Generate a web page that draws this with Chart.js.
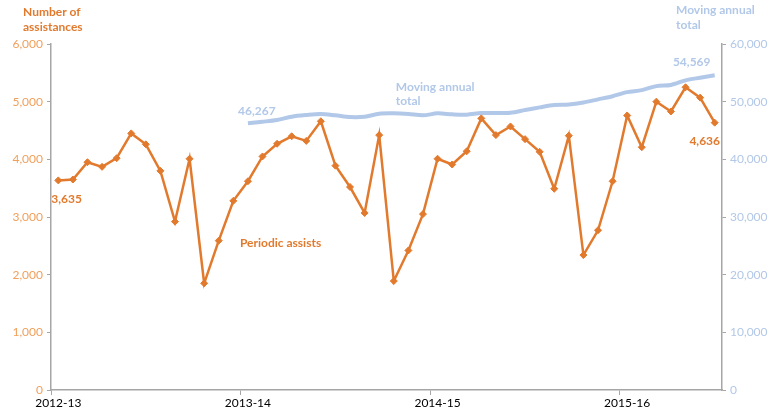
<!DOCTYPE html>
<html lang="en">
<head>
    <meta charset="UTF-8">
    <title>Periodic assists</title>
    <script src="https://cdn.jsdelivr.net/npm/chart.js"></script>
    <style>
        html, body { margin: 0; padding: 0; background: #fff; }
        .container { width: 769px; height: 414px; position: relative; }
    </style>
</head>
<body>
    <div class="container">
        <canvas id="assistChart"></canvas>
    </div>
    <script>
        // four-weekly periods, 13 per financial year
        const years = ['2012-13', '2013-14', '2014-15', '2015-16'];
        const periodsPerYear = [13, 13, 13, 7];

        const periodicAssists = [
            3635, 3650, 3950, 3870, 4020, 4450, 4260, 3800, 2920, 4010, 1850, 2590, 3280,
            3620, 4050, 4270, 4400, 4320, 4660, 3890, 3520, 3070, 4420, 1890, 2420, 3050,
            4010, 3910, 4140, 4710, 4420, 4570, 4350, 4130, 3490, 4410, 2340, 2770, 3620,
            4760, 4210, 5000, 4830, 5250, 5070, 4636
        ];

        // starts at the first period of 2013-14
        const movingAnnualTotal = [
            46267, 46520, 46820, 47390, 47680, 47860, 47630, 47340, 47390, 47910, 47970, 47860, 47630,
            47970, 47800, 47740, 48030, 48030, 48080, 48550, 49010, 49420, 49500, 49850, 50400, 50950,
            51650, 52000, 52700, 52900, 53700, 54150, 54569
        ];

        const orange = '#e27a2e';
        const orangeLight = '#f0a05c';
        const blue = '#b2c8e8';
        const axisGrey = '#a6a6a6';

        const labels = [];
        years.forEach((y, i) => {
            for (let p = 1; p <= periodsPerYear[i]; p++) labels.push(y + ' P' + p);
        });
        const matData = new Array(labels.length - movingAnnualTotal.length).fill(null).concat(movingAnnualTotal);

        const fmt = v => Number(v).toLocaleString('en-US');
        const fontFamily = 'Lato, "Open Sans", sans-serif';

        const textPlugin = {
            id: 'textPlugin',
            afterDatasetsDraw(chart) {
                const ctx = chart.ctx;
                const x = chart.scales.x, y = chart.scales.y, y1 = chart.scales.y1;
                const last = periodicAssists.length - 1;
                const matStart = labels.length - movingAnnualTotal.length;
                ctx.save();
                ctx.textBaseline = 'middle';
                ctx.font = 'bold 12px ' + fontFamily;

                ctx.fillStyle = orange;
                ctx.textAlign = 'left';
                ctx.fillText('Number of', 23, 12);
                ctx.fillText('assistances', 23, 27);
                ctx.fillText(fmt(periodicAssists[0]), x.getPixelForValue(0) - 7, y.getPixelForValue(periodicAssists[0]) + 19);
                ctx.fillText('Periodic assists', x.getPixelForValue(13) - 8, y.getPixelForValue(2550));
                ctx.textAlign = 'center';
                ctx.fillText(fmt(periodicAssists[last]), x.getPixelForValue(last) - 10, y.getPixelForValue(periodicAssists[last]) + 18);

                ctx.fillStyle = blue;
                ctx.textAlign = 'left';
                ctx.fillText('Moving annual', 676, 10);
                ctx.fillText('total', 676, 25);
                ctx.fillText('Moving annual', x.getPixelForValue(23) + 2, y1.getPixelForValue(52500));
                ctx.fillText('total', x.getPixelForValue(23) + 2, y1.getPixelForValue(50100));
                ctx.textAlign = 'center';
                ctx.fillText(fmt(movingAnnualTotal[0]), x.getPixelForValue(matStart) + 9, y1.getPixelForValue(movingAnnualTotal[0]) - 12);
                ctx.fillText(fmt(movingAnnualTotal[movingAnnualTotal.length - 1]), x.getPixelForValue(last) - 23, y1.getPixelForValue(movingAnnualTotal[movingAnnualTotal.length - 1]) - 13);
                ctx.restore();
            }
        };

        const ctx = document.getElementById('assistChart').getContext('2d');
        new Chart(ctx, {
            type: 'line',
            data: {
                labels: labels,
                datasets: [{
                    label: 'Moving annual total',
                    data: matData,
                    yAxisID: 'y1',
                    borderColor: blue,
                    borderWidth: 4,
                    pointRadius: 0,
                    tension: 0.3,
                    order: 2
                }, {
                    label: 'Periodic assists',
                    data: periodicAssists,
                    yAxisID: 'y',
                    borderColor: orange,
                    backgroundColor: orange,
                    borderWidth: 2.5,
                    pointStyle: 'rectRot',
                    pointRadius: 3.5,
                    pointBorderWidth: 1,
                    tension: 0,
                    order: 1
                }]
            },
            options: {
                responsive: true,
                maintainAspectRatio: false,
                animation: false,
                layout: { padding: { top: 44, left: 0, right: 0, bottom: 0 } },
                plugins: {
                    legend: { display: false },
                    tooltip: { enabled: false }
                },
                scales: {
                    x: {
                        type: 'category',
                        offset: true,
                        grid: {
                            offset: true,
                            drawOnChartArea: false,
                            tickLength: 5,
                            color: c => (c.index % 13 === 0 ? axisGrey : 'rgba(0,0,0,0)')
                        },
                        border: { color: axisGrey, width: 1.5 },
                        ticks: {
                            autoSkip: false,
                            maxRotation: 0,
                            color: '#000',
                            padding: 1,
                            font: { family: fontFamily, size: 12 },
                            callback: (v, i) => (i % 13 === 0 ? years[i / 13] : '')
                        },
                        afterFit: s => { s.height = 24; }
                    },
                    y: {
                        position: 'left',
                        min: 0,
                        max: 6000,
                        grid: { drawOnChartArea: false, tickLength: 4, color: axisGrey },
                        border: { color: axisGrey, width: 1.5 },
                        ticks: {
                            stepSize: 1000,
                            color: orangeLight,
                            padding: 4,
                            font: { family: fontFamily, size: 12 },
                            callback: v => fmt(v)
                        },
                        afterFit: s => { s.width = 51; }
                    },
                    y1: {
                        position: 'right',
                        min: 0,
                        max: 60000,
                        grid: { drawOnChartArea: false, tickLength: 4, color: axisGrey },
                        border: { color: axisGrey, width: 1.5 },
                        ticks: {
                            stepSize: 10000,
                            color: blue,
                            padding: 4,
                            font: { family: fontFamily, size: 12 },
                            callback: v => fmt(v)
                        },
                        afterFit: s => { s.width = 47; }
                    }
                }
            },
            plugins: [textPlugin]
        });
    </script>
</body>
</html>
